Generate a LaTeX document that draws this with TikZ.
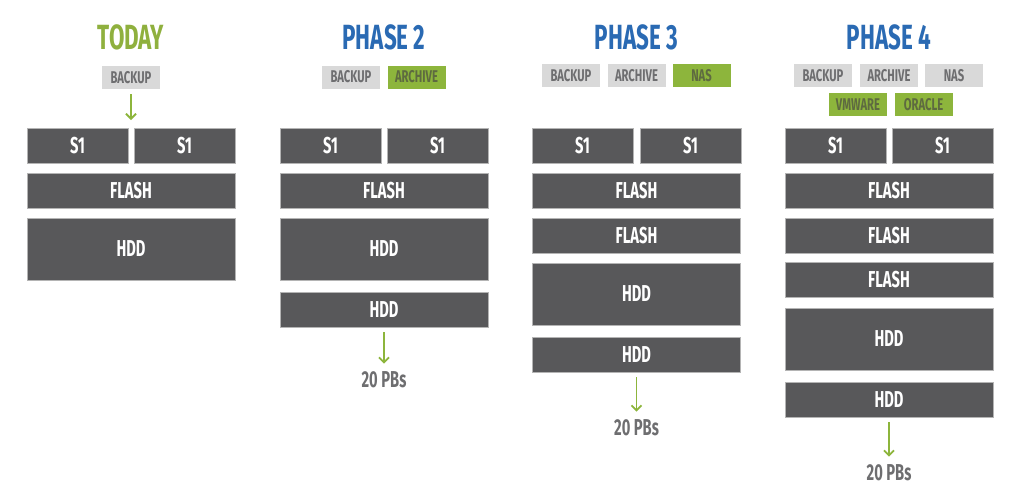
\documentclass[tikz,border=0pt]{standalone}
\usepackage{fontspec}
\setmainfont{Fira Sans}[FakeStretch=0.72]
\newfontfamily\boxfont{Fira Sans}[FakeStretch=0.64]
\newfontfamily\tagfont{Fira Sans}[FakeStretch=0.66]
\newfontfamily\ttlfont{Fira Sans}[FakeStretch=0.64]
\usetikzlibrary{arrows.meta}
\definecolor{boxgray}{HTML}{58585A}
\definecolor{boxedge}{HTML}{B4B4B4}
\definecolor{taggray}{HTML}{D9D9D9}
\definecolor{tagtext}{HTML}{6E6E70}
\definecolor{greentag}{HTML}{8DB53C}
\definecolor{greentext}{HTML}{5E6A40}
\definecolor{titlegreen}{HTML}{8FB03E}
\definecolor{titleblue}{HTML}{2A6AB3}
\tikzset{
  blk/.style={draw=boxedge, line width=0.8pt, fill=boxgray, text=white,
    font=\boxfont\bfseries\fontsize{23}{23}\selectfont, inner sep=0pt, minimum width=208pt, minimum height=35pt},
  half/.style={blk, minimum width=101pt},
  big/.style={blk, minimum height=62pt},
  tag/.style={fill=taggray, text=tagtext, font=\tagfont\bfseries\fontsize{17}{17}\selectfont,
    inner sep=0pt, minimum width=58pt, minimum height=23pt},
  newtag/.style={tag, fill=greentag, text=greentext},
  ttl/.style={font=\ttlfont\bfseries\fontsize{35}{35}\selectfont, inner sep=0pt},
  pbs/.style={font=\boxfont\bfseries\fontsize{23}{23}\selectfont, text=tagtext, inner sep=0pt},
  garrow/.style={draw=greentag, line width=1.8pt, -{Straight Barb[length=5pt,width=10pt,line width=1.8pt]}}
}
\begin{document}
\begin{tikzpicture}[x=1pt,y=-1pt]
\useasboundingbox (0,0) rectangle (1024,493);
% ---- TODAY
\node[ttl, text=titlegreen] (t1) at (131,37) {TODAY};
\node[tag] (c1bk) at (131,77.5) {BACKUP};
\node[half] (c1sa) at (77.5,145.5) {S1};
\node[half] (c1sb) at (184.5,145.5) {S1};
\node[blk] (c1f1) at (131,190.5) {FLASH};
\node[big] (c1h1) at (131,249) {HDD};
\coordinate (c1end) at (131,120);
\draw[garrow, shorten <=5pt] (c1bk) -- (c1end);
% ---- PHASE 2
\node[ttl, text=titleblue] (t2) at (384,37) {PHASE 2};
\node[tag] (c2bk) at (351,77) {BACKUP};
\node[newtag] (c2ar) at (416.5,77) {ARCHIVE};
\node[half] (c2sa) at (330.5,145.5) {S1};
\node[half] (c2sb) at (437.5,145.5) {S1};
\node[blk] (c2f1) at (384,190.5) {FLASH};
\node[big] (c2h1) at (384,249) {HDD};
\node[blk] (c2h2) at (384,309.5) {HDD};
\node[pbs] (c2pb) at (384,380) {20 PBs};
\draw[garrow, shorten <=5pt, shorten >=8pt] (c2h2) -- (c2pb);
% ---- PHASE 3
\node[ttl, text=titleblue] (t3) at (636.5,37) {PHASE 3};
\node[tag] (c3bk) at (571,75.5) {BACKUP};
\node[tag] (c3ar) at (636.5,75.5) {ARCHIVE};
\node[newtag] (c3na) at (701.5,75.5) {NAS};
\node[half] (c3sa) at (582.5,145.5) {S1};
\node[half] (c3sb) at (690.5,145.5) {S1};
\node[blk] (c3f1) at (636.5,190.5) {FLASH};
\node[blk] (c3f2) at (636.5,235.5) {FLASH};
\node[big] (c3h1) at (636.5,294) {HDD};
\node[blk] (c3h2) at (636.5,354.5) {HDD};
\node[pbs] (c3pb) at (636.5,428) {20 PBs};
\draw[garrow, shorten <=5pt, shorten >=8pt] (c3h2) -- (c3pb);
% ---- PHASE 4
\node[ttl, text=titleblue] (t4) at (889,37) {PHASE 4};
\node[tag] (c4bk) at (823,75.5) {BACKUP};
\node[tag] (c4ar) at (889,75.5) {ARCHIVE};
\node[tag] (c4na) at (954,75.5) {NAS};
\node[newtag] (c4vm) at (858,104.5) {VMWARE};
\node[newtag] (c4or) at (923.5,104.5) {ORACLE};
\node[half] (c4sa) at (835.5,145.5) {S1};
\node[half] (c4sb) at (942.5,145.5) {S1};
\node[blk] (c4f1) at (889,190.5) {FLASH};
\node[blk] (c4f2) at (889,235.5) {FLASH};
\node[blk] (c4f3) at (889,280) {FLASH};
\node[big] (c4h1) at (889,339) {HDD};
\node[blk] (c4h2) at (889,399.5) {HDD};
\node[pbs] (c4pb) at (889,473) {20 PBs};
\draw[garrow, shorten <=5pt, shorten >=8pt] (c4h2) -- (c4pb);
\end{tikzpicture}
\end{document}
